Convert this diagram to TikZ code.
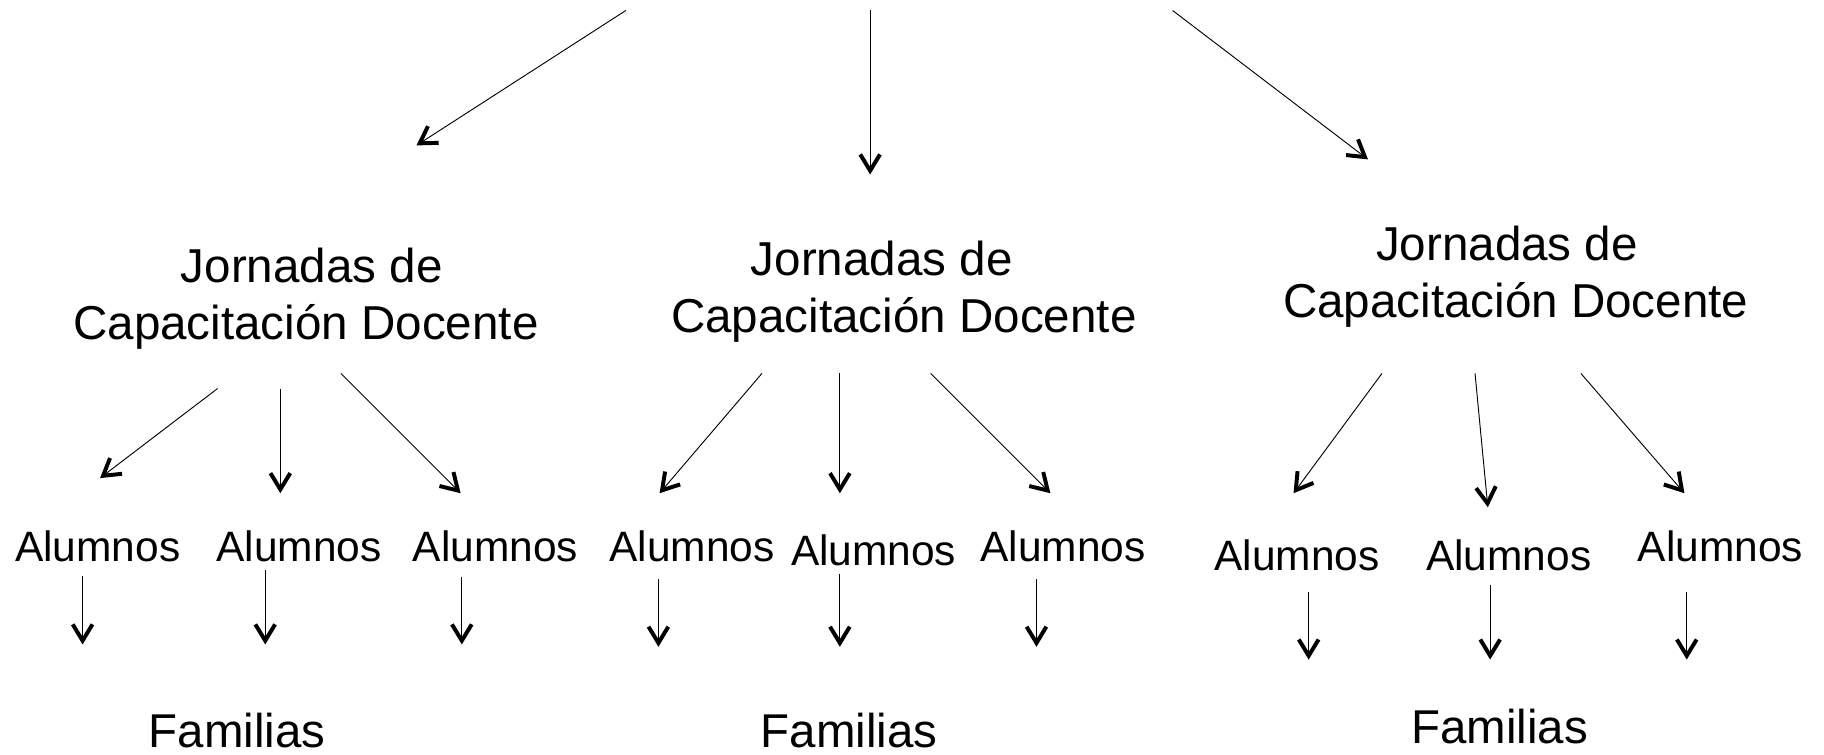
\documentclass[tikz,border=0pt]{standalone}
\usepackage{fontspec}
\setmainfont{Liberation Sans}
\usetikzlibrary{arrows.meta}
\tikzset{
  jorn/.style={align=center, inner sep=0pt, font=\fontsize{40.9}{49}\selectfont},
  alum/.style={anchor=base, inner sep=0pt, font=\fontsize{36.5}{44}\selectfont},
  fam/.style={anchor=base, inner sep=0pt, font=\fontsize{40.8}{49}\selectfont},
  link/.style={line width=0.8pt, -{Straight Barb[length=14pt,width=17pt,line width'=3.4pt]}}
}
\begin{document}
\begin{tikzpicture}[x=1pt,y=-1pt]
\useasboundingbox (0,0) rectangle (1568,649);
% top free ends
\coordinate (t1) at (538,9);
\coordinate (t2) at (748,9);
\coordinate (t3) at (1008,9);
\coordinate (t1e) at (358,125);
\coordinate (t2e) at (748,150);
\coordinate (t3e) at (1176,137);
\draw[link] (t1) -- (t1e);
\draw[link] (t2) -- (t2e);
\draw[link] (t3) -- (t3e);
% Jornadas
\node[jorn] (J1) at (263,257) {\hspace*{10pt}Jornadas de\\Capacitación Docente};
\node[jorn] (J2) at (777,251) {Jornadas de\hspace*{38pt}\\Capacitación Docente};
\node[jorn] (J3) at (1303,238) {Jornadas de\hspace*{15pt}\\Capacitación Docente};
% Alumnos
\node[alum] (A1) at (84,483) {Alumnos};
\node[alum] (A2) at (257,483) {Alumnos};
\node[alum] (A3) at (426,483) {Alumnos};
\node[alum] (A4) at (595,483) {Alumnos};
\node[alum] (A5) at (751,486) {Alumnos};
\node[alum] (A6) at (914,483) {Alumnos};
\node[alum] (A7) at (1115,490) {Alumnos};
\node[alum] (A8) at (1297,490) {Alumnos};
\node[alum] (A9) at (1479,483) {Alumnos};
% Familias
\node[fam] (F1) at (204,643) {Familias};
\node[fam] (F2) at (730,643) {Familias};
\node[fam] (F3) at (1289,639) {Familias};
% Jornadas -> Alumnos
\coordinate (j1a) at (187,334); \coordinate (a1t) at (86,411);
\coordinate (j1b) at (241,334); \coordinate (a2t) at (241,424);
\coordinate (j1c) at (293,321); \coordinate (a3t) at (396,424);
\coordinate (j2a) at (655,321); \coordinate (a4t) at (567,424);
\coordinate (j2b) at (722,321); \coordinate (a5t) at (722,424);
\coordinate (j2c) at (800,321); \coordinate (a6t) at (903,424);
\coordinate (j3a) at (1188,321); \coordinate (a7t) at (1112,424);
\coordinate (j3b) at (1268,321); \coordinate (a8t) at (1279,436);
\coordinate (j3c) at (1359,321); \coordinate (a9t) at (1448,424);
\foreach \s/\e in {j1a/a1t,j1b/a2t,j1c/a3t,j2a/a4t,j2b/a5t,j2c/a6t,j3a/a7t,j3b/a8t,j3c/a9t}
  \draw[link] (\s) -- (\e);
% Alumnos -> Familias
\coordinate (a1b) at (71,495);   \coordinate (f1a) at (71,554);
\coordinate (a2b) at (228,490);  \coordinate (f1b) at (228,554);
\coordinate (a3b) at (397,496);  \coordinate (f1c) at (397,554);
\coordinate (a4b) at (566,498);  \coordinate (f2a) at (566,556);
\coordinate (a5b) at (722,493);  \coordinate (f2b) at (722,556);
\coordinate (a6b) at (891,498);  \coordinate (f2c) at (891,556);
\coordinate (a7b) at (1125,509); \coordinate (f3a) at (1125,567);
\coordinate (a8b) at (1281,503); \coordinate (f3b) at (1281,567);
\coordinate (a9b) at (1450,509); \coordinate (f3c) at (1450,567);
\foreach \s/\e in {a1b/f1a,a2b/f1b,a3b/f1c,a4b/f2a,a5b/f2b,a6b/f2c,a7b/f3a,a8b/f3b,a9b/f3c}
  \draw[link] (\s) -- (\e);
\end{tikzpicture}
\end{document}
